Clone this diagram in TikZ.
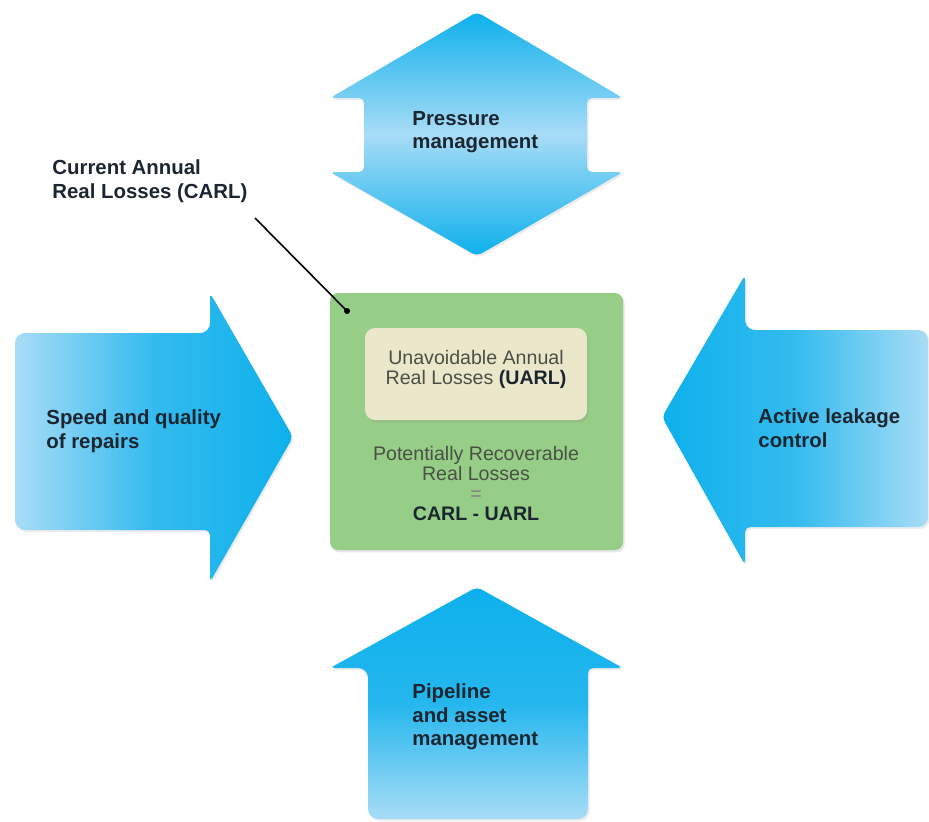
\documentclass[tikz,border=0pt]{standalone}
\usepackage{fontspec}
\setmainfont{Liberation Sans}
\usetikzlibrary{shadows}
\definecolor{skydark}{HTML}{0DB0EC}
\definecolor{skylight}{HTML}{A8DCF6}
\definecolor{boxgreen}{HTML}{97CE87}
\definecolor{boxcream}{HTML}{EBE7CB}
\definecolor{labelc}{HTML}{1C2631}
\definecolor{innerc}{HTML}{4A5046}

\begin{document}
\begin{tikzpicture}[x=0.5pt, y=-0.5pt,
  lever/.style={rounded corners=2.5pt,
                drop shadow={opacity=.15, shadow xshift=.8pt, shadow yshift=-1pt}},
  panel/.style={rounded corners=4pt,
                drop shadow={opacity=.2, shadow xshift=.8pt, shadow yshift=-1.2pt}},
  lbl/.style={anchor=west, align=left, inner sep=0pt, text=labelc,
              font=\fontsize{10.2}{11.8}\selectfont\bfseries},
  inner/.style={align=center, inner sep=0pt, text=innerc,
                font=\fontsize{9.8}{10}\selectfont},
  pin/.style={circle, fill=black, inner sep=0pt, minimum size=3pt}
]
\useasboundingbox (0,0) rectangle (929,821);

% the four levers
\path[lever, top color=skydark, bottom color=skydark, middle color=skylight]
  (477,12) -- (623,98) -- (587,98) -- (587,172) -- (623,172) -- (477,256)
  -- (330,172) -- (364,172) -- (364,98) -- (330,98) -- cycle;
\path[lever, left color=skylight, right color=skydark, middle color=skydark!75!skylight]
  (210,333) -- (210,293) -- (293,437) -- (210,582) -- (210,530)
  [rounded corners=5pt] -- (15,530) -- (15,333) -- cycle;
\path[lever, left color=skydark, right color=skylight, middle color=skydark!75!skylight]
  (745,330) -- (745,275) -- (662,417) -- (745,565) -- (745,527)
  [rounded corners=5pt] -- (928,527) -- (928,330) -- cycle;
\path[lever, top color=skydark, bottom color=skylight, middle color=skydark!85!skylight]
  (368,668) -- (330,668) -- (477,587) -- (623,668) -- (588,668)
  [rounded corners=5pt] -- (588,819) -- (368,819) -- cycle;

% real losses box
\path[panel, fill=boxgreen] (330,293) rectangle (623,550);
\path[panel, rounded corners=5pt, fill=boxcream] (365,328) rectangle (587,420);

\node[inner] (uarl) at (476,369) {Unavoidable Annual\\Real Losses \textbf{\color{labelc}(UARL)}};
\node[inner] (prl) at (476,483) {Potentially Recoverable\\Real Losses\\{\color{gray}=}\\
  \textbf{\color{labelc}CARL - UARL}};

% lever labels
\node[lbl] (press) at (412,132) {Pressure\\management};
\node[lbl] (speed) at (46,431) {Speed and quality\\of repairs};
\node[lbl] (active) at (758,428) {Active leakage\\control};
\node[lbl] (pipe) at (412,717) {Pipeline\\and asset\\management};

% CARL callout
\node[lbl] (carl) at (52,181) {Current Annual\\Real Losses (CARL)};
\coordinate (tail) at (255,218);
\node[pin] (dot) at (347,311) {};
\draw[line width=.8pt] (tail) -- (dot.center);
\end{tikzpicture}
\end{document}
